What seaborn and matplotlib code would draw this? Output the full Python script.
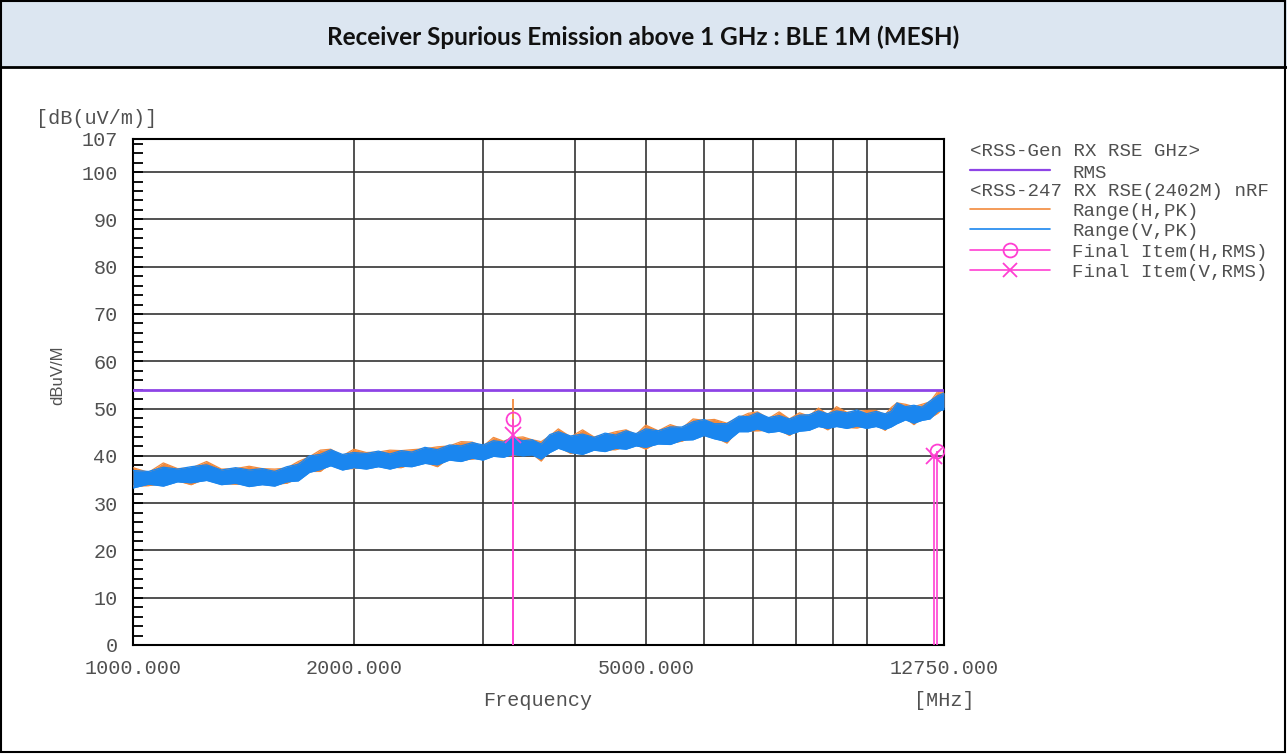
import matplotlib
matplotlib.use("Agg")
import matplotlib.pyplot as plt
import seaborn as sns
import pandas as pd
from matplotlib.patches import Rectangle
from matplotlib.lines import Line2D
from matplotlib.ticker import FixedLocator, MultipleLocator, NullFormatter

# ---------------- data ----------------
freq_mhz = [1000, 1050, 1100, 1150, 1200, 1260, 1320, 1380, 1440, 1500,
            1560, 1620, 1680, 1740, 1800, 1860, 1930, 2000, 2080, 2160,
            2240, 2320, 2400, 2500, 2600, 2700, 2800, 2900, 3000, 3100,
            3200, 3293, 3400, 3500, 3600, 3700, 3800, 3950, 4100, 4250,
            4400, 4550, 4700, 4850, 5000, 5200, 5400, 5600, 5800, 6000,
            6200, 6450, 6700, 6900, 7100, 7350, 7600, 7850, 8100, 8350,
            8600, 8850, 9100, 9400, 9700, 10000, 10300, 10600, 10800, 11000,
            11300, 11600, 11900, 12200, 12500, 12750]

# Range(H,PK) trace envelope (upper / lower)
h_pk_top = [37.5, 36.5, 38.5, 37.3, 37.4, 38.8, 37.2, 37.3, 37.8, 37.3,
            37.2, 37.4, 38.8, 39.8, 41.2, 41.4, 40.0, 41.4, 40.7, 40.8,
            41.2, 41.1, 41.3, 41.5, 41.9, 42.1, 43.0, 42.9, 42.0, 43.9,
            43.1, 43.8, 44.0, 43.4, 43.0, 44.2, 45.7, 44.0, 45.5, 44.0,
            44.5, 45.1, 45.5, 44.5, 46.5, 45.3, 46.6, 45.8, 47.8, 47.5,
            47.7, 46.9, 48.1, 49.0, 49.3, 47.9, 49.3, 47.8, 49.1, 48.4,
            50.1, 48.7, 50.4, 49.2, 49.4, 49.6, 49.6, 48.7, 50.2, 51.2,
            50.9, 50.4, 50.9, 51.4, 53.6, 53.4]
h_pk_bottom = [33.6, 33.7, 34.2, 34.7, 33.9, 35.3, 34.2, 34.0, 34.2, 34.0,
               34.0, 34.2, 35.3, 36.7, 36.7, 38.4, 37.3, 37.3, 37.9, 37.8,
               37.6, 37.5, 38.3, 38.6, 37.7, 39.6, 39.1, 39.3, 39.8, 40.0,
               40.1, 40.0, 40.6, 40.4, 38.9, 41.2, 41.9, 40.5, 41.0, 41.3,
               41.3, 41.3, 42.0, 42.3, 41.4, 43.0, 42.7, 43.1, 44.1, 44.4,
               44.0, 42.7, 45.7, 45.3, 45.3, 45.4, 45.5, 44.3, 45.9, 45.5,
               46.6, 45.5, 46.8, 46.0, 45.9, 46.3, 46.5, 45.4, 46.8, 46.9,
               48.0, 46.6, 48.1, 48.0, 49.0, 50.3]

# Range(V,PK) trace envelope (upper / lower)
v_pk_top = [36.9, 36.7, 37.6, 37.2, 37.7, 38.1, 37.0, 37.5, 37.0, 37.3,
            36.7, 37.7, 38.2, 40.0, 40.3, 41.3, 40.3, 40.7, 40.5, 41.0,
            40.4, 41.1, 40.8, 41.8, 41.3, 42.3, 42.1, 42.8, 42.3, 43.2,
            42.9, 44.0, 43.2, 43.4, 42.5, 44.5, 45.1, 44.2, 44.6, 43.9,
            44.8, 44.4, 45.3, 44.7, 45.7, 45.3, 46.1, 46.1, 47.2, 47.7,
            46.8, 46.8, 48.4, 48.3, 49.1, 48.1, 48.5, 47.8, 48.6, 48.7,
            49.5, 48.9, 49.5, 49.1, 49.7, 48.9, 49.4, 48.9, 49.4, 51.2,
            50.4, 50.7, 50.3, 51.6, 52.7, 53.3]
v_pk_bottom = [33.2, 34.0, 33.6, 34.5, 34.3, 34.8, 33.9, 34.2, 33.5, 33.9,
               33.6, 34.5, 34.7, 36.5, 37.1, 37.9, 37.0, 37.5, 37.2, 37.7,
               37.2, 37.8, 37.7, 38.4, 38.1, 39.1, 38.8, 39.5, 39.1, 39.9,
               39.7, 40.3, 40.0, 40.2, 39.3, 40.7, 41.6, 40.7, 40.3, 41.2,
               40.9, 41.6, 41.4, 42.1, 41.8, 42.5, 42.4, 43.3, 43.4, 44.3,
               43.6, 43.0, 45.1, 45.1, 45.7, 44.9, 45.2, 44.5, 45.2, 45.4,
               46.2, 45.8, 46.2, 45.8, 46.3, 45.8, 46.2, 45.6, 46.1, 46.8,
               47.6, 46.9, 47.5, 47.8, 49.4, 49.8]

# isolated H peak spike at the first final-item frequency
h_spike_freq = [3293]
h_spike_base = [44.0]
h_spike_peak = [52.0]

rms_limit = 54.0

final_h_freq = [3293, 12484]
final_h_level = [47.7, 41.1]
final_v_freq = [3293, 12356]
final_v_level = [44.4, 40.0]

x_tick_values = [1000, 2000, 5000, 12750]
x_tick_labels = ["1000.000", "2000.000", "5000.000", "12750.000"]
x_grid_values = [2000, 3000, 4000, 5000, 6000, 7000, 8000, 9000, 10000]
y_tick_values = [0, 10, 20, 30, 40, 50, 60, 70, 80, 90, 100, 107]

title = "Receiver Spurious Emission above 1 GHz : BLE 1M (MESH)"
legend_header_1 = "<RSS-Gen RX RSE GHz>"
legend_header_2 = "<RSS-247 RX RSE(2402M) nRF"
legend_items = ["RMS", "Range(H,PK)", "Range(V,PK)", "Final Item(H,RMS)", "Final Item(V,RMS)"]

# ---------------- styling ----------------
C_ORANGE = "#f28a3c"
C_BLUE = "#1a86ef"
C_PURPLE = "#8e44e6"
C_MAGENTA = "#ff3fd2"
C_TEXT = "#505050"
C_GRID = "#333333"

sns.set_style("white")
plt.rcParams["font.family"] = ["Liberation Mono", "DejaVu Sans"]

W, H = 1287, 754
fig = plt.figure(figsize=(W / 100, H / 100), dpi=100)
fig.patch.set_facecolor("white")

def fy(y):
    return 1 - y / H

def fx(x):
    return x / W

# title bar and frame
fig.add_artist(Rectangle((0, fy(67)), 1, 67 / H, transform=fig.transFigure,
                         facecolor="#dce6f1", edgecolor="none", zorder=0))
fig.add_artist(Line2D([0, 1], [fy(67), fy(67)], transform=fig.transFigure,
                      color="black", lw=2))
fig.add_artist(Rectangle((fx(1), fy(752)), fx(1284), 751 / H, transform=fig.transFigure,
                         facecolor="none", edgecolor="black", lw=1.5))
fig.text(0.5, fy(37), title, ha="center", va="center", fontsize=17.5,
         fontweight="bold", family=["Lato", "DejaVu Sans"], color="#111111")

# plot area
ax = fig.add_axes([fx(133), fy(645), fx(811), 506 / H])
ax.set_facecolor("white")
ax.set_xscale("log")
ax.set_xlim(1000, 12750)
ax.set_ylim(0, 107)

df = pd.DataFrame({"freq": freq_mhz, "h_top": h_pk_top, "h_bot": h_pk_bottom,
                   "v_top": v_pk_top, "v_bot": v_pk_bottom})

# H (orange) trace band
ax.fill_between(df["freq"], df["h_bot"], df["h_top"], color=C_ORANGE, lw=0, zorder=3)
sns.lineplot(data=df, x="freq", y="h_top", ax=ax, color=C_ORANGE, lw=0.9, zorder=3)
sns.lineplot(data=df, x="freq", y="h_bot", ax=ax, color=C_ORANGE, lw=0.9, zorder=3)
ax.vlines(h_spike_freq, h_spike_base, h_spike_peak, color=C_ORANGE, lw=1.3, zorder=3)

# V (blue) trace band
ax.fill_between(df["freq"], df["v_bot"], df["v_top"], color=C_BLUE, lw=0, zorder=4)
sns.lineplot(data=df, x="freq", y="v_top", ax=ax, color=C_BLUE, lw=0.9, zorder=4)
sns.lineplot(data=df, x="freq", y="v_bot", ax=ax, color=C_BLUE, lw=0.9, zorder=4)

# limit line
ax.axhline(rms_limit, color=C_PURPLE, lw=2, zorder=5)

# final items
ax.vlines(final_h_freq, 0, final_h_level, color=C_MAGENTA, lw=1.2, zorder=6)
ax.vlines(final_v_freq, 0, final_v_level, color=C_MAGENTA, lw=1.2, zorder=6)
ax.plot(final_h_freq, final_h_level, ls="none", marker="o", mfc="none",
        mec=C_MAGENTA, ms=10, mew=1.3, zorder=7)
ax.plot(final_v_freq, final_v_level, ls="none", marker="x",
        mec=C_MAGENTA, ms=11, mew=1.3, zorder=7)

ax.set_xlabel("")
ax.set_ylabel("")

# ticks & grid
ax.xaxis.set_major_locator(FixedLocator(x_tick_values))
ax.set_xticklabels(x_tick_labels)
ax.xaxis.set_minor_locator(FixedLocator(x_grid_values))
ax.xaxis.set_minor_formatter(NullFormatter())
ax.set_yticks(y_tick_values)
ax.yaxis.set_minor_locator(MultipleLocator(2))
ax.set_axisbelow(True)
ax.grid(False)
ax.xaxis.grid(True, which="both", color=C_GRID, lw=1.2)
ax.yaxis.grid(True, which="major", color=C_GRID, lw=1.2)

ax.tick_params(axis="x", which="both", length=0, pad=10, labelsize=14.5,
               labelcolor=C_TEXT)
ax.tick_params(axis="y", which="both", direction="in", length=7, width=1.3,
               color="black", left=True, right=False, pad=11, labelsize=14.5,
               labelcolor=C_TEXT)
for s in ax.spines.values():
    s.set_color("black")
    s.set_linewidth(1.5)
    s.set_visible(True)

# axis texts
fig.text(fx(538), fy(701), "Frequency", ha="center", va="center",
         fontsize=14.5, color=C_TEXT)
fig.text(fx(944), fy(701), "[MHz]", ha="center", va="center",
         fontsize=14.5, color=C_TEXT)
fig.text(fx(97), fy(118), "[dB(uV/m)]", ha="center", va="center",
         fontsize=14.5, color=C_TEXT)
fig.text(fx(58), fy(375), "dBuV/M", ha="center", va="center", rotation=90,
         fontsize=12, family=["Liberation Sans", "DejaVu Sans"], color=C_TEXT)

# legend (drawn manually, right of the plot)
LFS = 13.8
fig.text(fx(970), fy(151), legend_header_1, ha="left", va="center",
         fontsize=LFS, color=C_TEXT)
fig.text(fx(970), fy(192), legend_header_2, ha="left", va="center",
         fontsize=LFS, color=C_TEXT)
leg_line_y = [170, 209, 229, 250, 269.5]
leg_text_y = [173, 212, 232, 252, 272.5]
leg_colors = [C_PURPLE, C_ORANGE, C_BLUE, C_MAGENTA, C_MAGENTA]
leg_markers = [None, None, None, "o", "x"]
for ly, ty, col, mk, lab in zip(leg_line_y, leg_text_y, leg_colors, leg_markers, legend_items):
    fig.add_artist(Line2D([fx(970), fx(1050)], [fy(ly), fy(ly)], transform=fig.transFigure,
                          color=col, lw=1.6 if col == C_PURPLE else 1.2))
    if mk is not None:
        fig.add_artist(Line2D([fx(1010)], [fy(ly)], transform=fig.transFigure,
                              ls="none", marker=mk, mfc="none", mec=col, ms=10, mew=1.3))
    fig.text(fx(1072), fy(ty), lab, ha="left", va="center", fontsize=LFS, color=C_TEXT)

fig.savefig("out.png", dpi=100, facecolor="white")
